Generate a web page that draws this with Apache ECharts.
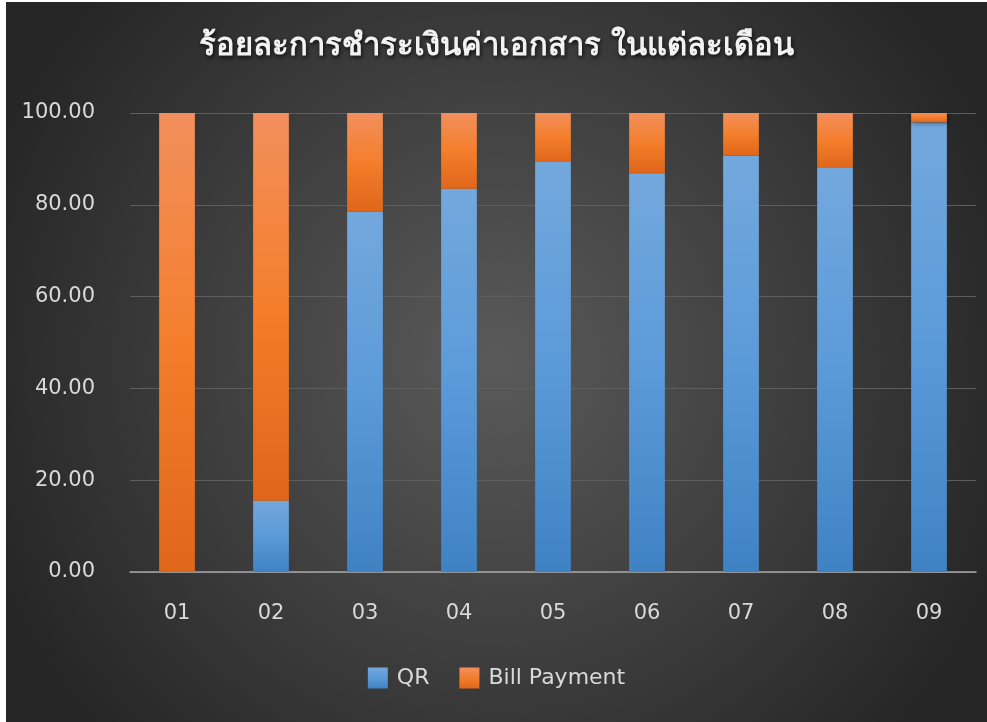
<!DOCTYPE html>
<html>
<head>
<meta charset="utf-8">
<script src="https://cdn.jsdelivr.net/npm/echarts@6/dist/echarts.min.js"></script>
<style>
    html, body { margin: 0; padding: 0; background: #fff; }
    #main { position: absolute; left: 6px; top: 2px; width: 981px; height: 720px; }
</style>
</head>
<body>
<div id="main"></div>
<script>
var months = ['01', '02', '03', '04', '05', '06', '07', '08', '09'];
var qr = [0, 15.5, 78.5, 83.5, 89.3, 86.9, 90.7, 88.0, 98.0];
var billPayment = [100, 84.5, 21.5, 16.5, 10.7, 13.1, 9.3, 12.0, 2.0];
var yTicks = [0, 20, 40, 60, 80, 100];

var chart = echarts.init(document.getElementById('main'));

function grad(top, mid, bottom) {
    return new echarts.graphic.LinearGradient(0, 0, 0, 1, [
        {offset: 0, color: top},
        {offset: 0.5, color: mid},
        {offset: 1, color: bottom}
    ]);
}

var option = {
    backgroundColor: new echarts.graphic.RadialGradient(0.5, 0.5, 0.75, [
        {offset: 0, color: '#5a5a5a'},
        {offset: 1, color: '#262626'}
    ]),
    textStyle: { fontFamily: 'DejaVu Sans' },
    title: {
        text: 'ร้อยละการชำระเงินค่าเอกสาร ในแต่ละเดือน',
        left: 'center',
        top: 24,
        textStyle: {
            color: '#f2f2f2',
            fontSize: 31,
            fontWeight: 'bold',
            textShadowColor: 'rgba(0,0,0,0.8)',
            textShadowBlur: 4,
            textShadowOffsetX: 1,
            textShadowOffsetY: 2
        }
    },
    legend: {
        bottom: 28,
        left: 'center',
        itemWidth: 20,
        itemHeight: 21,
        itemGap: 30,
        icon: 'rect',
        textStyle: { color: '#d9d9d9', fontSize: 22, padding: [0, 0, 0, 4] },
        data: ['QR', 'Bill Payment']
    },
    grid: { left: 124, right: 11, top: 111, bottom: 150 },
    xAxis: {
        type: 'category',
        data: months,
        axisLine: { lineStyle: { color: '#a6a6a6', width: 1.5 } },
        axisTick: { show: false },
        axisLabel: { color: '#d9d9d9', fontSize: 21, margin: 31 }
    },
    yAxis: {
        type: 'value',
        min: yTicks[0],
        max: yTicks[yTicks.length - 1],
        interval: yTicks[1] - yTicks[0],
        axisLine: { show: false },
        axisTick: { show: false },
        axisLabel: {
            color: '#d9d9d9',
            fontSize: 21,
            margin: 35,
            formatter: function (v) { return v.toFixed(2); }
        },
        splitLine: { lineStyle: { color: '#5e5e5e', width: 1 } }
    },
    series: [
        {
            name: 'QR',
            type: 'bar',
            stack: 'total',
            barWidth: '38%',
            data: qr,
            itemStyle: {
                color: grad('#73a8dd', '#5b9ad9', '#3f82c4'),
                shadowColor: 'rgba(0,0,0,0.45)',
                shadowBlur: 5,
                shadowOffsetX: 1,
                shadowOffsetY: 1
            }
        },
        {
            name: 'Bill Payment',
            type: 'bar',
            stack: 'total',
            barWidth: '38%',
            data: billPayment,
            itemStyle: {
                color: grad('#f28f5c', '#f47e2c', '#e0661a'),
                shadowColor: 'rgba(0,0,0,0.45)',
                shadowBlur: 5,
                shadowOffsetX: 1,
                shadowOffsetY: 1
            }
        }
    ]
};

chart.setOption(option);
</script>
</body>
</html>
